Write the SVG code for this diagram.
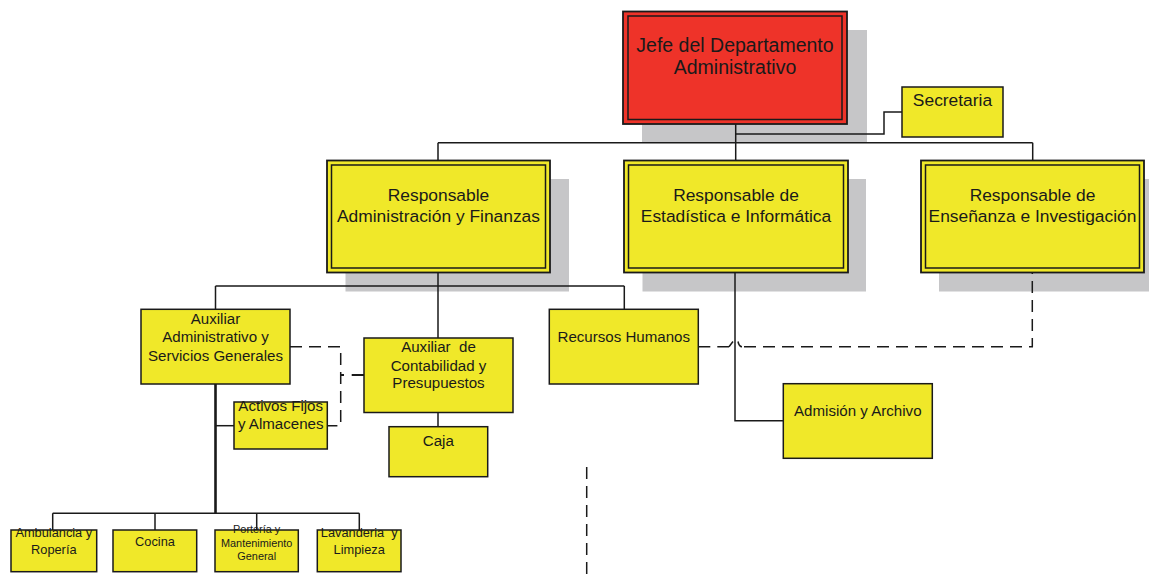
<svg xmlns="http://www.w3.org/2000/svg" width="1149" height="574" viewBox="0 0 1149 574">
<style>
text{font-family:"Liberation Sans",Arial,sans-serif;fill:#1a1a1a;text-anchor:middle}
.sh{fill:#c6c6c8}
.red{fill:#ee3329;stroke:#1a1a1a;stroke-width:1.8}
.yel{fill:#f0e829;stroke:#1a1a1a;stroke-width:1.8}
.in{fill:none;stroke:#1a1a1a;stroke-width:1.5}
.box{fill:#f0e829;stroke:#1a1a1a;stroke-width:1.5}
.ln{fill:none;stroke:#1a1a1a;stroke-width:1.5}
.dash{fill:none;stroke:#1a1a1a;stroke-width:1.5;stroke-dasharray:12 7}
.t1{font-size:19.5px}
.t2{font-size:17.4px}
.t3{font-size:15.1px}
.t4{font-size:12.8px}
.t5{font-size:10.9px}
</style>
<g id="shadows">
<rect class="sh" x="642" y="30" width="225" height="112.5"/>
<rect class="sh" x="345.5" y="179" width="223.5" height="112.5"/>
<rect class="sh" x="642.5" y="179" width="223.5" height="112.5"/>
<rect class="sh" x="939" y="179" width="210" height="112.5"/>
</g>
<g id="n-jefe">
<rect class="red" x="623" y="11.5" width="224" height="112.5"/>
<rect class="in" x="628" y="16" width="214" height="103.5"/>
<text class="t1" x="735" y="51.7">Jefe del Departamento</text>
<text class="t1" x="735" y="74">Administrativo</text>
</g>
<g id="n-secretaria">
<rect class="box" x="902" y="87" width="101" height="50"/>
<text class="t2" x="952.5" y="106">Secretaria</text>
</g>
<g id="n-resp-admin">
<rect class="yel" x="327" y="160.5" width="223" height="112"/>
<rect class="in" x="331.5" y="165" width="214" height="103"/>
<text class="t2" x="438.5" y="201">Responsable</text>
<text class="t2" x="438.5" y="221.7">Administración y Finanzas</text>
</g>
<g id="n-resp-est">
<rect class="yel" x="624" y="160.5" width="224" height="112"/>
<rect class="in" x="628.5" y="165" width="215" height="103"/>
<text class="t2" x="736" y="201">Responsable de</text>
<text class="t2" x="736" y="221.7">Estadística e Informática</text>
</g>
<g id="n-resp-ens">
<rect class="yel" x="921" y="160.5" width="223" height="112"/>
<rect class="in" x="925.5" y="165" width="214" height="103"/>
<text class="t2" x="1032.5" y="201">Responsable de</text>
<text class="t2" x="1032.5" y="221.7">Enseñanza e Investigación</text>
</g>
<g id="n-aux-admin">
<rect class="box" x="141" y="309.3" width="149" height="74.7"/>
<text class="t3" x="215.5" y="324">Auxiliar</text>
<text class="t3" x="215.5" y="342.3">Administrativo y</text>
<text class="t3" x="215.5" y="360.7">Servicios Generales</text>
</g>
<g id="n-aux-cont">
<rect class="box" x="364" y="338" width="149" height="74.5"/>
<text class="t3" x="438.5" y="351.7" xml:space="preserve">Auxiliar  de</text>
<text class="t3" x="438.5" y="370.7">Contabilidad y</text>
<text class="t3" x="438.5" y="388.3">Presupuestos</text>
</g>
<g id="n-activos">
<rect class="box" x="234" y="402" width="93.3" height="47"/>
<text class="t3" x="280.7" y="411">Activos Fijos</text>
<text class="t3" x="280.7" y="429">y Almacenes</text>
</g>
<g id="n-caja">
<rect class="box" x="389" y="426.7" width="98.7" height="50"/>
<text class="t3" x="438.3" y="445.7">Caja</text>
</g>
<g id="n-rrhh">
<rect class="box" x="549.3" y="309.3" width="149" height="74.7"/>
<text class="t3" x="623.8" y="341.7">Recursos Humanos</text>
</g>
<g id="n-admision">
<rect class="box" x="783.3" y="383.7" width="149" height="74.6"/>
<text class="t3" x="857.8" y="415.7">Admisión y Archivo</text>
</g>
<g id="n-ambulancia">
<rect class="box" x="11" y="530" width="85.7" height="41.7"/>
<text class="t4" x="53.8" y="537.3">Ambulancia y</text>
<text class="t4" x="53.8" y="554">Ropería</text>
</g>
<g id="n-cocina">
<rect class="box" x="113" y="530" width="83.7" height="41.7"/>
<text class="t4" x="155" y="546">Cocina</text>
</g>
<g id="n-porteria">
<rect class="box" x="215" y="530" width="83.3" height="41.7"/>
<text class="t5" x="256.7" y="533.3">Portería y</text>
<text class="t5" x="256.7" y="546.7">Mantenimiento</text>
<text class="t5" x="256.7" y="560">General</text>
</g>
<g id="n-lavanderia">
<rect class="box" x="317.3" y="530" width="83.7" height="41.7"/>
<text class="t4" x="359.2" y="537.3" xml:space="preserve">Lavanderia  y</text>
<text class="t4" x="359.2" y="554">Limpieza</text>
</g>
<g id="connectors">
<path class="ln" d="M735.7 124 V160.5"/>
<path class="ln" d="M735.7 134 H884 V112 H902"/>
<path class="ln" d="M438 142.7 H1032.7 M438 142.7 V160.5 M1032.7 142.7 V160.5"/>
<path class="ln" d="M438 272.5 V338 M215.5 286 H624.3 M215.5 286 V309.3 M624.3 286 V309.3"/>
<path class="ln" d="M438 412.5 V426.7"/>
<path class="ln" d="M215.5 384 V513.3" style="stroke-width:2.6"/>
<path class="ln" d="M215.5 425.7 H234"/>
<path class="ln" d="M52.7 513.3 H359.3 M52.7 513.3 V530 M155 513.3 V530 M256.7 513.3 V530 M359.3 513.3 V530"/>
<path class="ln" d="M735 272.5 V420.7 H783.3"/>
<path class="dash" d="M290 346.7 H340.7 V425.7 H327.3"/>
<path class="ln" d="M341 375 H344 M351.7 375 H364" style="stroke-width:1.8"/>
<path class="dash" d="M698.3 346.7 H729"/>
<path class="ln" d="M729 346.7 L733 341.5 M738 341.5 Q739 346.7 742 346.7"/>
<path class="dash" d="M744 346.7 H1032.3 V272.5"/>
<path class="dash" d="M586.7 467 V574"/>
</g>
</svg>
